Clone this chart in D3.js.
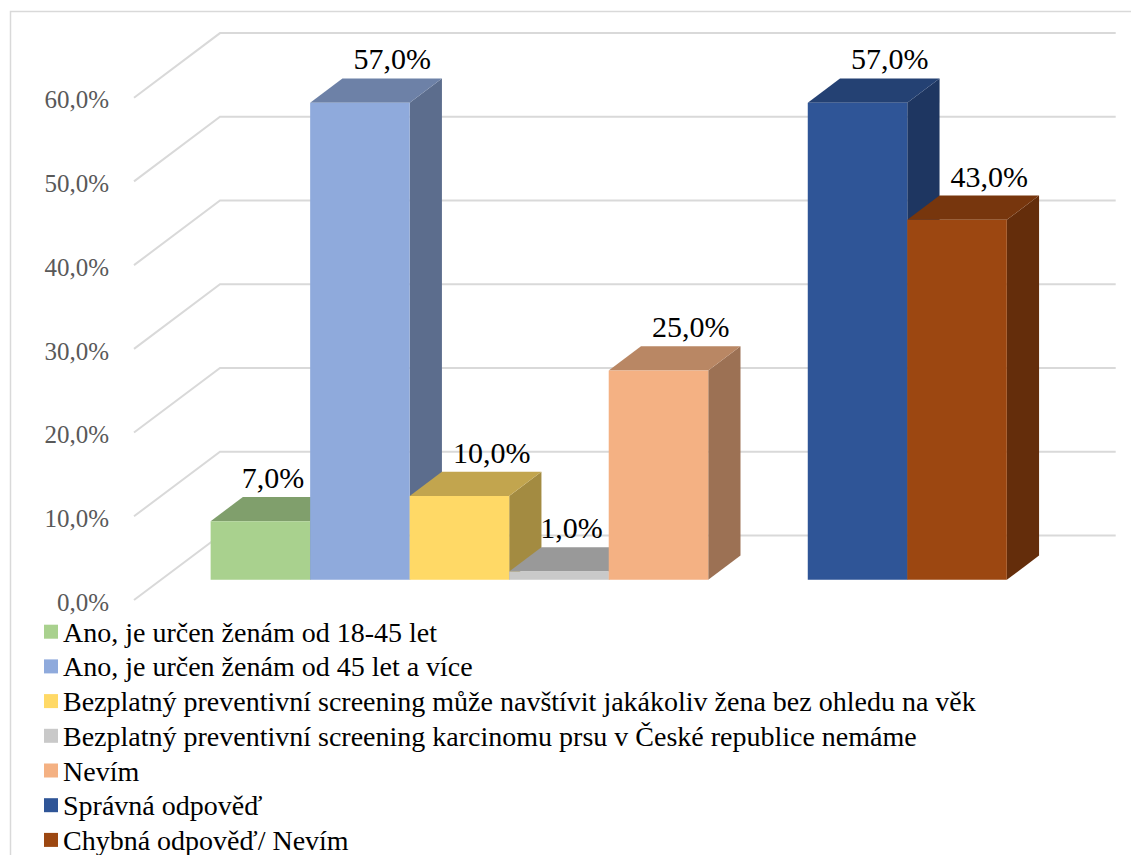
<!DOCTYPE html>
<html><head><meta charset="utf-8"><script src="https://cdn.jsdelivr.net/npm/d3@7"></script>
<style>
  body { margin: 0; }
  .chart-text { font-family: "Liberation Serif", Tinos, "Times New Roman", Times, serif; }
</style>
</head>
<body>
<script>
// Survey answers: who the free breast-cancer screening is for
const categories = [
  "Ano, je určen ženám od 18-45 let",
  "Ano, je určen ženám od 45 let a více",
  "Bezplatný preventivní screening může navštívit jakákoliv žena bez ohledu na věk",
  "Bezplatný preventivní screening karcinomu prsu v České republice nemáme",
  "Nevím",
  "Správná odpověď",
  "Chybná odpověď/ Nevím"
];
const values = [0.07, 0.57, 0.10, 0.01, 0.25, 0.57, 0.43];
const groupSizes = [5, 2];
const colors = ["#a9d18e", "#8faadc", "#ffd966", "#c9c9c9", "#f4b183", "#2f5597", "#9c4711"];
const yTicks = [0, 0.1, 0.2, 0.3, 0.4, 0.5, 0.6];

const FONT = "Liberation Serif, Tinos, Times New Roman, Times, serif";
const W = 1131, H = 855;
const svg = d3.select("body").append("svg")
  .attr("xmlns", "http://www.w3.org/2000/svg")
  .attr("width", W).attr("height", H);

// chart frame
svg.append("path")
  .attr("d", "M10.5,855V11.5H1131")
  .attr("fill", "none").attr("stroke", "#d9d9d9").attr("stroke-width", 1.5);

// oblique projection: front floor edge + depth vector to the back wall
const depth = { dx: 86, dy: -64.6 };
const frontLeft = 134, frontRight = 1029.7;
const t0 = 0.3125, t1 = 0.6875;   // bar front/back planes as depth fractions

const y = d3.scaleLinear().domain([0, 0.6]).range([600, 97.7]);

// slot keys: series, with one empty slot between the two groups
const slots = [];
let idx = 0;
groupSizes.forEach((n, g) => {
  for (let k = 0; k < n; k++) slots.push("s" + (idx++));
  if (g < groupSizes.length - 1) slots.push("gap" + g);
});
const x = d3.scaleBand().domain(slots).range([frontLeft, frontRight])
  .paddingInner(0).paddingOuter(0.5);

const P = (px, v, t) => [px + t * depth.dx, y(v) + t * depth.dy];
const poly = pts => "M" + pts.map(p => p.join(",")).join("L") + "Z";
const line = pts => "M" + pts.map(p => p.join(",")).join("L");

const fmt = d3.formatLocale({ decimal: ",", thousands: " ", grouping: [3], currency: ["", " Kč"] }).format(".1%");

const addText = (sel) => sel.append("text").attr("class", "chart-text").attr("font-family", FONT);

// gridlines: floor/side diagonal + back wall
svg.selectAll("path.grid").data(yTicks).join("path")
  .attr("class", "grid")
  .attr("d", v => line([P(frontLeft, v, 0), P(frontLeft, v, 1), P(frontRight, v, 1)]))
  .attr("fill", "none").attr("stroke", "#d9d9d9").attr("stroke-width", 2);

// value axis labels
yTicks.forEach(v => {
  addText(svg).attr("x", 109).attr("y", y(v) + 2).attr("dy", "0.35em")
    .attr("text-anchor", "end").attr("font-size", 25).attr("fill", "#595959")
    .text(fmt(v));
});

// bars, left to right so each front face covers the previous side face
const shade = (c, k) => { const r = d3.rgb(c); return d3.rgb(r.r * k, r.g * k, r.b * k).formatHex(); };
const bars = values.map((v, i) => {
  const xl = x("s" + i), xr = xl + x.bandwidth();
  return { i, v, xl, xr, color: colors[i] };
});
bars.forEach(b => {
  svg.append("path").attr("d", poly([P(b.xr, 0, t0), P(b.xr, 0, t1), P(b.xr, b.v, t1), P(b.xr, b.v, t0)]))
    .attr("fill", shade(b.color, 0.64));
  svg.append("path").attr("d", poly([P(b.xl, b.v, t0), P(b.xr, b.v, t0), P(b.xr, b.v, t1), P(b.xl, b.v, t1)]))
    .attr("fill", shade(b.color, 0.76));
  svg.append("path").attr("d", poly([P(b.xl, 0, t0), P(b.xr, 0, t0), P(b.xr, b.v, t0), P(b.xl, b.v, t0)]))
    .attr("fill", b.color);
});

// data labels above the back edge of each bar top
bars.forEach((b, j) => {
  const cx = (b.xl + b.xr) / 2 + t1 * depth.dx;
  const base = y(b.v) + t1 * depth.dy - 9;
  const t = addText(svg).attr("x", cx).attr("y", base)
    .attr("text-anchor", "middle").attr("font-size", 30).attr("fill", "#000")
    .text(fmt(b.v));
  // keep a label clear of a taller neighbouring bar on its right
  const next = bars[j + 1];
  if (next && Math.abs(next.xl - b.xr) < 1) {
    const nextLeft = next.xl + t0 * depth.dx;
    const nextTop = y(next.v) + t0 * depth.dy;
    const w = t.node().getComputedTextLength();
    if (nextTop < base && cx + w / 2 > nextLeft - 6) {
      t.attr("x", nextLeft - 6 - w / 2);
    }
  }
});

// legend
categories.forEach((c, i) => {
  const by = 641.7 + i * 34.7;
  svg.append("rect").attr("x", 44).attr("y", by - 17).attr("width", 14).attr("height", 14)
    .attr("fill", colors[i]);
  addText(svg).attr("x", 63).attr("y", by).attr("font-size", 28).attr("fill", "#000")
    .text(c);
});
</script></body></html>
